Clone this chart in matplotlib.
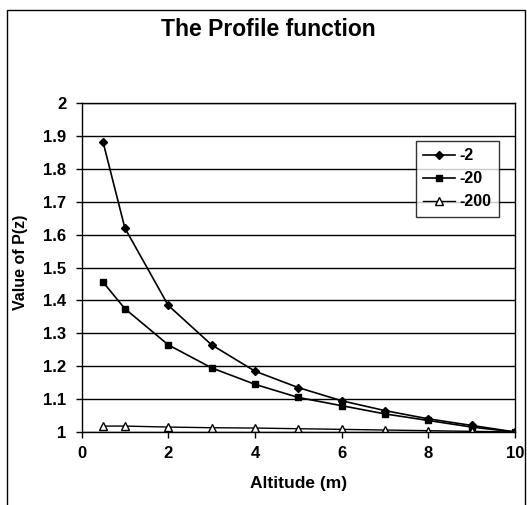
import matplotlib.pyplot as plt
from matplotlib.patches import Rectangle

# Data
altitude = [0.5, 1, 2, 3, 4, 5, 6, 7, 8, 9, 10]
p_m2 = [1.88, 1.62, 1.385, 1.265, 1.185, 1.135, 1.095, 1.065, 1.04, 1.02, 1.0]
p_m20 = [1.455, 1.375, 1.265, 1.195, 1.145, 1.105, 1.08, 1.055, 1.035, 1.015, 1.0]
p_m200 = [1.018, 1.018, 1.015, 1.013, 1.012, 1.01, 1.008, 1.006, 1.004, 1.002, 1.0]
series_labels = ["-2", "-20", "-200"]

plt.rcParams['font.family'] = ['Liberation Sans', 'DejaVu Sans']
plt.rcParams['font.weight'] = 'bold'

W, H = 527, 505
fig = plt.figure(figsize=(W / 100, H / 100), dpi=100)
left, right, top, bottom = 81.5, 515, 103, 432
ax = fig.add_axes([left / W, 1 - bottom / H, (right - left) / W, (bottom - top) / H])

# outer chart border (bottom runs off the image)
fig.patches.append(Rectangle((7 / W, -10 / H), 518 / W, 505 / H, transform=fig.transFigure,
                             fill=False, edgecolor='black', linewidth=1.0))

ax.plot(altitude, p_m2, color='black', lw=1.2, marker='D', markersize=4.5, label=series_labels[0])
ax.plot(altitude, p_m20, color='black', lw=1.2, marker='s', markersize=5, label=series_labels[1])
ax.plot(altitude, p_m200, color='black', lw=1.0, marker='^', markersize=6,
        markerfacecolor='white', label=series_labels[2])

ax.set_xlim(0, 10)
ax.set_ylim(1, 2)
ax.set_xticks([0, 2, 4, 6, 8, 10])
ax.set_yticks([1 + i / 10 for i in range(11)])
ax.set_yticklabels(['1', '1.1', '1.2', '1.3', '1.4', '1.5', '1.6', '1.7', '1.8', '1.9', '2'])
ax.tick_params(labelsize=12, direction='out', length=4, width=1)
ax.tick_params(axis='x', pad=6)
ax.tick_params(axis='y', pad=7)
ax.yaxis.grid(True, color='black', linewidth=1.0)
ax.set_axisbelow(True)
for s in ax.spines.values():
    s.set_linewidth(1.0)

ax.set_xlabel("Altitude (m)", fontsize=12.5, fontweight='bold', labelpad=11)
ax.set_ylabel("Value of P(z)", fontsize=11.5, fontweight='bold', labelpad=11)
ax.yaxis.label.set_y(0.515)
fig.text(268 / W, 1 - 30 / H, "The Profile function", ha='center', va='center',
         fontsize=16.5, fontweight='bold')

leg = ax.legend(loc='upper right', bbox_to_anchor=(0.963, 0.884), borderaxespad=0,
                fontsize=11.5, frameon=True, fancybox=False, edgecolor='black',
                handlelength=2.0, borderpad=0.45, labelspacing=0.5, handletextpad=0.3)
leg.get_frame().set_linewidth(1.0)

fig.savefig("out.png", dpi=100)
